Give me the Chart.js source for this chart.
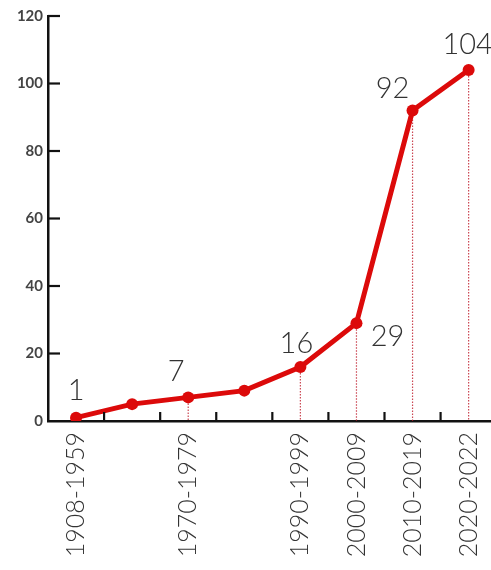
<!DOCTYPE html>
<html>
<head>
<meta charset="utf-8">
<script src="https://cdn.jsdelivr.net/npm/chart.js@4/dist/chart.umd.min.js"></script>
<style>
  html, body { margin: 0; padding: 0; background: #fff; overflow: hidden; }
  #wrap { width: 510px; height: 570px; }
</style>
</head>
<body>
<div id="wrap"><canvas id="myChart"></canvas></div>
<script>
const decades = ['1908-1959', '1960-1969', '1970-1979', '1980-1989', '1990-1999', '2000-2009', '2010-2019', '2020-2022'];
const counts = [1, 5, 7, 9, 16, 29, 92, 104];
const shownTicks = [0, 2, 4, 5, 6, 7];
const dropLines = [2, 4, 5, 6, 7];
const yTicks = [20, 40, 60, 80, 100, 120];

const red = '#dc0a0a';

// value label placement around each labelled point
const labelOffsets = {
    0: [0, -27],
    2: [-12, -26],
    4: [-4, -23],
    5: [31, 14],
    6: [-20, -22],
    7: [-1, -25]
};

const extras = {
    id: 'extras',
    beforeDatasetsDraw(chart) {
        const ctx = chart.ctx;
        const meta = chart.getDatasetMeta(0);
        const bottom = chart.chartArea.bottom;
        ctx.save();
        ctx.strokeStyle = 'rgba(190, 25, 40, 0.8)';
        ctx.lineWidth = 1.2;
        ctx.setLineDash([1.5, 1.5]);
        dropLines.forEach(i => {
            const p = meta.data[i];
            ctx.beginPath();
            ctx.moveTo(p.x, p.y);
            ctx.lineTo(p.x, bottom);
            ctx.stroke();
        });
        ctx.restore();
    },
    afterDraw(chart) {
        const ctx = chart.ctx;
        const x = chart.scales.x;
        const y = chart.scales.y;
        const area = chart.chartArea;
        ctx.save();
        ctx.strokeStyle = '#111';
        ctx.lineWidth = 2.2;
        // y ticks pointing into the plot
        yTicks.forEach(v => {
            const py = y.getPixelForValue(v);
            ctx.beginPath();
            ctx.moveTo(area.left, py);
            ctx.lineTo(area.left + 12, py);
            ctx.stroke();
        });
        // x ticks between categories, pointing up
        for (let i = 0; i < decades.length - 1; i++) {
            const px = (x.getPixelForValue(i) + x.getPixelForValue(i + 1)) / 2;
            ctx.beginPath();
            ctx.moveTo(px, area.bottom);
            ctx.lineTo(px, area.bottom - 9);
            ctx.stroke();
        }
        // value labels
        const meta = chart.getDatasetMeta(0);
        ctx.fillStyle = '#333';
        ctx.font = '300 29px Lato';
        ctx.textAlign = 'center';
        ctx.textBaseline = 'middle';
        Object.keys(labelOffsets).forEach(k => {
            const p = meta.data[k];
            const [dx, dy] = labelOffsets[k];
            ctx.fillText(String(counts[k]), p.x + dx, p.y + dy);
        });
        ctx.restore();
    }
};

new Chart(document.getElementById('myChart'), {
    type: 'line',
    data: {
        labels: decades,
        datasets: [{
            data: counts,
            borderColor: red,
            backgroundColor: red,
            borderWidth: 5,
            pointRadius: 6,
            pointBackgroundColor: red,
            pointBorderWidth: 0,
            tension: 0
        }]
    },
    options: {
        responsive: true,
        maintainAspectRatio: false,
        animation: false,
        layout: { padding: { top: 16, right: 3, left: 0, bottom: 0 } },
        plugins: {
            legend: { display: false },
            tooltip: { enabled: false }
        },
        scales: {
            x: {
                offset: true,
                grid: { display: false, drawTicks: false },
                border: { display: true, color: '#111', width: 2.5 },
                afterFit: s => { s.height = 149; },
                ticks: {
                    autoSkip: false,
                    minRotation: 90,
                    maxRotation: 90,
                    padding: 11,
                    color: '#333',
                    font: { family: 'Lato', size: 25, weight: '300' },
                    callback: (v, i) => shownTicks.includes(i) ? decades[i] : ''
                }
            },
            y: {
                min: 0,
                max: 120,
                grid: { display: false, drawTicks: false },
                border: { display: true, color: '#111', width: 2.5 },
                afterFit: s => { s.width = 48; },
                ticks: {
                    stepSize: 20,
                    padding: 5,
                    color: '#444',
                    font: { family: 'Lato', size: 15, weight: 'bold' }
                }
            }
        }
    },
    plugins: [extras]
});
</script>
</body>
</html>
